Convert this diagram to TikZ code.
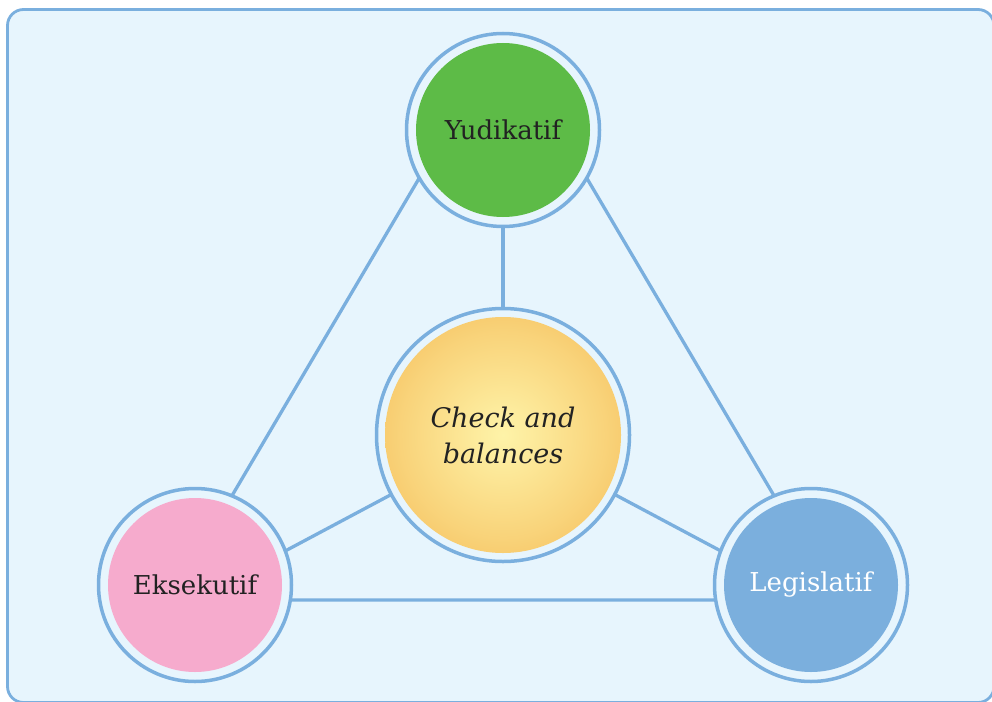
\documentclass[tikz,border=0pt]{standalone}
\usepackage{fontspec}
\setmainfont{DejaVu Serif}
\definecolor{panel}{HTML}{E7F5FD}
\definecolor{edge}{HTML}{7AAFDE}
\definecolor{yudgreen}{HTML}{5DBB47}
\definecolor{ekspink}{HTML}{F6ABCD}
\definecolor{legblue}{HTML}{7BAFDD}
\definecolor{cbin}{HTML}{FEF3A8}
\definecolor{cbout}{HTML}{F5BD5A}
\definecolor{ink}{HTML}{222222}
% radial fill of the central disc: the disc rim sits at about 35bp
\pgfdeclareradialshading{cbshade}{\pgfpoint{0bp}{0bp}}{%
  color(0bp)=(cbin); color(6bp)=(cbin!85!cbout); color(22bp)=(cbin!40!cbout); color(34bp)=(cbout); color(50bp)=(cbout)}
\begin{document}
\begin{tikzpicture}[x=1pt,y=-1pt,
  link/.style={draw=edge,line width=3.3pt},
  ring/.style={circle,draw=edge,line width=3.5pt,fill=panel,inner sep=0pt},
  smallring/.style={ring,minimum size=193pt},
  bigring/.style={ring,minimum size=253pt},
  core/.style={circle,inner sep=0pt,minimum size=174pt,font=\fontsize{26}{30}\selectfont,text=ink},
  label/.style={text=ink}]
\useasboundingbox (0,0) rectangle (992,701);
\begin{scope}
  \clip (0,0) rectangle (992,701);
  \draw[draw=edge,line width=2.8pt,fill=panel,rounded corners=16pt] (7.5,9.5) rectangle (994,702.5);
\end{scope}
% corners of the triangle and the feet of the spokes
\coordinate (tA) at (503,36);
\coordinate (tL) at (170.5,600);
\coordinate (tR) at (835.5,600);
\coordinate (sL) at (195,599);
\coordinate (sR) at (811,599);
\coordinate (cC) at (503,435);
% connectors
\draw[link] (tA) -- (tL) -- (tR) -- cycle;
\draw[link] (cC) -- (sL);
\draw[link] (cC) -- (sR);
\draw[link] (cC) -- (tA);
% outer rings
\node[smallring] (yudR) at (503,130) {};
\node[smallring] (eksR) at (195,585) {};
\node[smallring] (legR) at (811,585) {};
\node[bigring] (cbR) at (cC) {};
% inner discs
\node[core,fill=yudgreen] (yud) at (yudR) {Yudikatif};
\node[core,fill=ekspink] (eks) at (eksR) {Eksekutif};
\node[core,fill=legblue,text=white] (leg) at (legR) {Legislatif};
\node[circle,inner sep=0pt,minimum size=236pt,shading=cbshade] (cb) at (cbR) {};
\node[label,align=center,font=\fontsize{27}{36}\selectfont\itshape] (cbt) at (cb) {Check and\\balances};
\end{tikzpicture}
\end{document}
